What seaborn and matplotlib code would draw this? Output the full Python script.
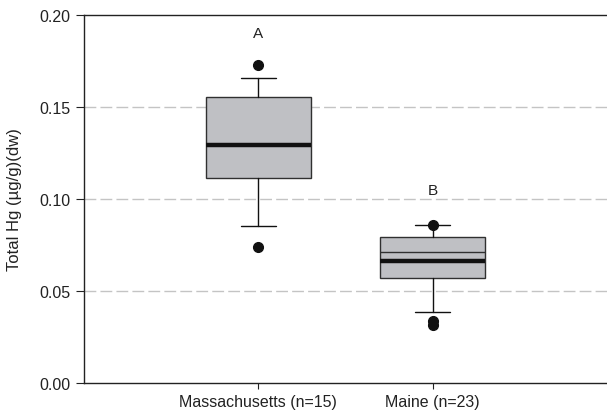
import matplotlib
matplotlib.use("Agg")
import matplotlib.pyplot as plt
import seaborn as sns

# summary stats (box = 25-75%, whiskers = 10-90%)
sites = ["Massachusetts (n=15)", "Maine (n=23)"]
q1 = [0.1113, 0.0571]
q3 = [0.1554, 0.0792]
medians = [0.1293, 0.0712]
means = [0.1293, 0.0663]
whis_lo = [0.0852, 0.0388]
whis_hi = [0.1656, 0.0859]
outliers = [[0.1730, 0.0737], [0.0860, 0.0339, 0.0315]]
letters = ["A", "B"]
letter_y = [0.190, 0.105]

sns.set_style("ticks")
plt.rcParams["font.family"] = ["Liberation Sans", "DejaVu Sans"]

fig = plt.figure(figsize=(6.07, 4.14), dpi=100)
ax = fig.add_axes([0.1384, 0.0725, 0.8616, 0.8889])

stats = []
for i, name in enumerate(sites):
    stats.append({
        "label": name, "q1": q1[i], "q3": q3[i], "med": medians[i],
        "mean": means[i], "whislo": whis_lo[i], "whishi": whis_hi[i],
        "fliers": outliers[i],
    })

edge = "#303030"
ax.bxp(stats, positions=range(len(sites)), widths=0.6, patch_artist=True,
       showmeans=True, meanline=True,
       boxprops=dict(facecolor="#bfc0c4", edgecolor=edge, linewidth=1.0),
       medianprops=dict(color=edge, linewidth=1.0),
       meanprops=dict(color="#111111", linestyle="-", linewidth=3.2),
       whiskerprops=dict(color="#111111", linewidth=1.0),
       capprops=dict(color="#111111", linewidth=1.0),
       capwidths=0.2,
       flierprops=dict(marker="o", markerfacecolor="#111111",
                       markeredgecolor="#111111", markersize=7))

for y in [0.05, 0.10, 0.15]:
    ax.axhline(y, color="#c4c4c4", linestyle=(0, (8.5, 3)), linewidth=1.0, zorder=0)

for i, t in enumerate(letters):
    ax.text(i, letter_y[i], t, ha="center", va="center", fontsize=11, color="#222222")

ax.set_xlim(-1, 2)
ax.set_ylim(0, 0.20)
ax.set_yticks([0.0, 0.05, 0.10, 0.15, 0.20])
ax.set_yticklabels(["0.00", "0.05", "0.10", "0.15", "0.20"])
ax.set_xticks(range(len(sites)))
ax.set_xticklabels(sites)
ax.set_ylabel("Total Hg (\u00b5g/g)(dw)", fontsize=12, color="#222222", labelpad=12)
ax.tick_params(labelsize=11.5, colors="#222222", length=6, width=0.8, pad=4)
ax.tick_params(axis="x", length=4)

for s in ["left", "top", "bottom"]:
    ax.spines[s].set_color("#222222")
    ax.spines[s].set_linewidth(1.0)
ax.spines["right"].set_visible(False)

fig.savefig("out.png", dpi=100)
